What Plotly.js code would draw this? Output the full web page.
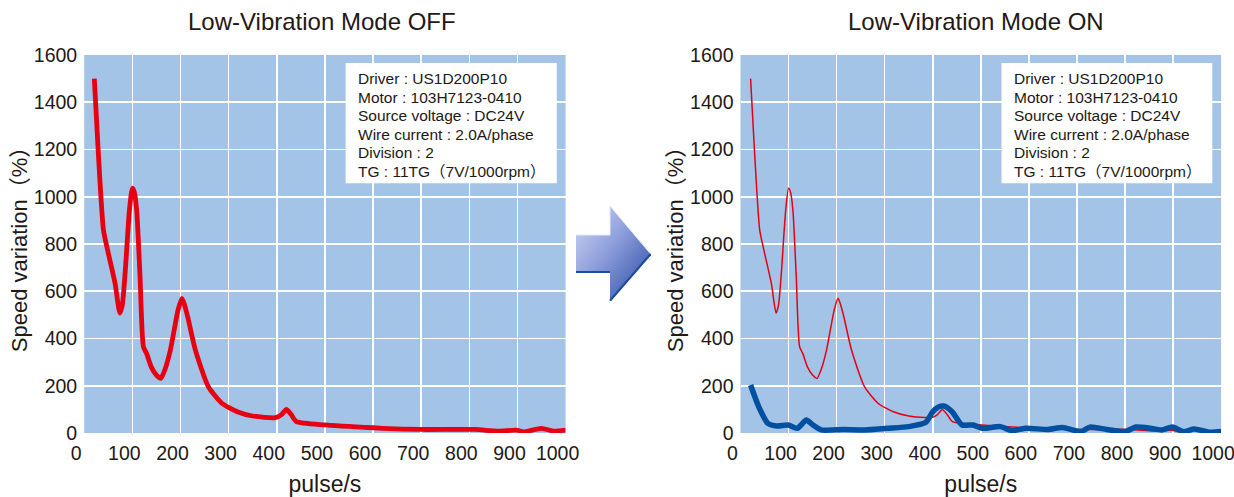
<!DOCTYPE html>
<html>
<head>
<meta charset="utf-8">
<script src="https://cdn.plot.ly/plotly-3.0.1.min.js"></script>
<style>
html,body{margin:0;padding:0;background:#ffffff;}
#chart{width:1234px;height:497px;}
</style>
</head>
<body>
<div id="chart"></div>
<script>
// ---- data ----
var chartTitles = ["Low-Vibration Mode OFF", "Low-Vibration Mode ON"];
var xAxisTitle = "pulse/s";
var yAxisTitle = "Speed variation\uFF08%\uFF09";
var xTickVals = [0,100,200,300,400,500,600,700,800,900,1000];
var yTickVals = [0,200,400,600,800,1000,1200,1400,1600];
var infoLines = ["Driver : US1D200P10", "Motor : 103H7123-0410", "Source voltage : DC24V",
  "Wire current : 2.0A/phase", "Division : 2", "TG : 11TG\uFF087V/1000rpm\uFF09"];

// OFF (red) curve
var offPulse = [21,29,40,50,64,74,79,85,94,100,104,109,116,123,130,139,150,159,168,179,195,203,208,215,231,258,286,318,350,397,410,420,430,441,501,620,700,811,859,898,914,950,974,1000];
var offSpeed = [1500,1198,859,762,635,508,540,677,944,1036,1020,944,662,365,335,281,245,231,270,351,521,570,545,492,351,196,126,90,72,65,78,100,78,48,34,20,15,15,8,12,5,20,8,12];

// ON (blue) curve
var onPulse = [21,38,57,76,99,118,137,150,168,213,259,305,350,385,400,412,423,432,442,461,484,503,541,564,594,640,670,708,727,762,800,823,853,876,899,922,944,975,1000];
var onSpeed = [203,111,41,30,34,20,55,35,13,15,13,20,27,44,90,110,114,105,86,34,34,20,27,10,20,15,23,6,25,15,6,25,20,13,25,6,17,3,6];

// ---- layout ----
var W = 1234, H = 497;
var leftPx = [84.2, 565.6], rightPx = [740.5, 1221.1], plotTop = 55, plotBottom = 433;
var plotH = plotBottom - plotTop;
function px(a){ return [a[0]/W, a[1]/W]; }
var ydom = [1 - plotBottom/H, 1 - plotTop/H];

var txtFamily = "Liberation Sans, Arial, Noto Sans CJK JP, sans-serif";
var tickFont = {family: "Liberation Sans Narrow, Arial Narrow, Liberation Sans, Arial, sans-serif", size: 19.5, color: "#231815"};
var chartTitleFont = {family: txtFamily, size: 24, color: "#231815"};
var xTitleFont = {family: txtFamily, size: 23, color: "#231815"};
var yTitleFont = {family: txtFamily, size: 22, color: "#231815"};
var bg = "#a3c4e6";

function xax(dom, anchor){
  return {domain: dom, range: [0,1000], anchor: anchor, tickvals: xTickVals, ticks: "", showline: false,
    zeroline: false, showgrid: true, gridcolor: "#ffffff", gridwidth: 1.6, tickfont: tickFont,
    ticklabelshift: -8, ticklabelstandoff: 6, ticklabeloverflow: "allow",
    title: {text: xAxisTitle, font: xTitleFont, standoff: 15}, fixedrange: true};
}
function yax(anchor){
  return {domain: ydom, range: [0,1600], anchor: anchor, tickvals: yTickVals, ticks: "", showline: false,
    zeroline: false, showgrid: true, gridcolor: "#ffffff", gridwidth: 1.6, tickfont: tickFont,
    ticklabelstandoff: 6, ticklabeloverflow: "allow",
    title: {text: yAxisTitle, font: yTitleFont, standoff: 0}, fixedrange: true};
}

var traces = [
  {x: offPulse, y: offSpeed, xaxis: "x", yaxis: "y", mode: "lines", line: {color: "#e60012", width: 4.8, shape: "spline", smoothing: 0.6}, hoverinfo: "skip"},
  {x: offPulse, y: offSpeed, xaxis: "x2", yaxis: "y2", mode: "lines", line: {color: "#e60012", width: 1.5, shape: "spline", smoothing: 0.6}, hoverinfo: "skip"},
  {x: onPulse, y: onSpeed, xaxis: "x2", yaxis: "y2", mode: "lines", line: {color: "#0050a2", width: 5.5, shape: "spline", smoothing: 0.6}, hoverinfo: "skip"}
];

var boxX0 = (345.6-84.2)/481.4, boxX1 = (556.8-84.2)/481.4;
var boxY1 = (plotBottom-63)/plotH, boxY0 = (plotBottom-183.3)/plotH;
var textX = (356-84.2)/481.4;
var lineCenters = [79, 97.4, 115.8, 134.2, 152.6, 171];

var shapes = [], annotations = [];
[["x","y"],["x2","y2"]].forEach(function(r){
  shapes.push({type: "rect", xref: r[0]+" domain", yref: r[1]+" domain", x0: boxX0, x1: boxX1, y0: boxY0, y1: boxY1,
    fillcolor: "#ffffff", line: {width: 0}, layer: "above"});
  infoLines.forEach(function(t, k){
    annotations.push({xref: r[0]+" domain", yref: r[1]+" domain", x: textX, y: (plotBottom-lineCenters[k])/plotH,
      xanchor: "left", yanchor: "middle", align: "left", showarrow: false, text: t,
      font: {family: txtFamily, size: 15.5, color: "#231815"}});
  });
});
annotations.push({xref: "paper", yref: "paper", x: 322.4/W, y: 1-22/H, xanchor: "center", yanchor: "middle",
  showarrow: false, text: chartTitles[0], font: chartTitleFont});
annotations.push({xref: "paper", yref: "paper", x: 976.3/W, y: 1-22/H, xanchor: "center", yanchor: "middle",
  showarrow: false, text: chartTitles[1], font: chartTitleFont});

var arrowSvg = '<svg xmlns="http://www.w3.org/2000/svg" width="75" height="95" viewBox="0 0 75 95">' +
  '<defs><linearGradient id="g" x1="0" y1="0" x2="1" y2="1">' +
  '<stop offset="0" stop-color="#d3d9f4"/><stop offset="0.45" stop-color="#8d9edb"/><stop offset="1" stop-color="#2447a0"/></linearGradient></defs>' +
  '<path d="M0 29 L34 29 L34 0 L74.7 48 L34 94.7 L34 66 L0 66 Z" fill="url(#g)"/>' +
  '<path d="M0 66 L34 66" stroke="#1c4c9e" stroke-width="2.2"/>' +
  '<path d="M74.7 48 L34 94.7" stroke="#1c4c9e" stroke-width="2.2"/>' +
  '<path d="M0 29 L34 29 L34 0 L74.7 48" stroke="#e4e8f8" stroke-width="1" fill="none"/>' +
  '</svg>';
var images = [{source: "data:image/svg+xml;charset=utf-8," + encodeURIComponent(arrowSvg),
  xref: "paper", yref: "paper", x: 576/W, y: 1-206/H, sizex: 75/W, sizey: 95/H,
  xanchor: "left", yanchor: "top", sizing: "stretch", layer: "above"}];

var layout = {
  width: W, height: H, margin: {l: 0, r: 0, t: 0, b: 0, pad: 0},
  paper_bgcolor: "#ffffff", plot_bgcolor: bg, showlegend: false,
  xaxis: xax(px(leftPx), "y"), yaxis: yax("x"),
  xaxis2: xax(px(rightPx), "y2"), yaxis2: yax("x2"),
  shapes: shapes, annotations: annotations, images: images
};

Plotly.newPlot("chart", traces, layout, {displayModeBar: false, staticPlot: true});
</script>
</body>
</html>
